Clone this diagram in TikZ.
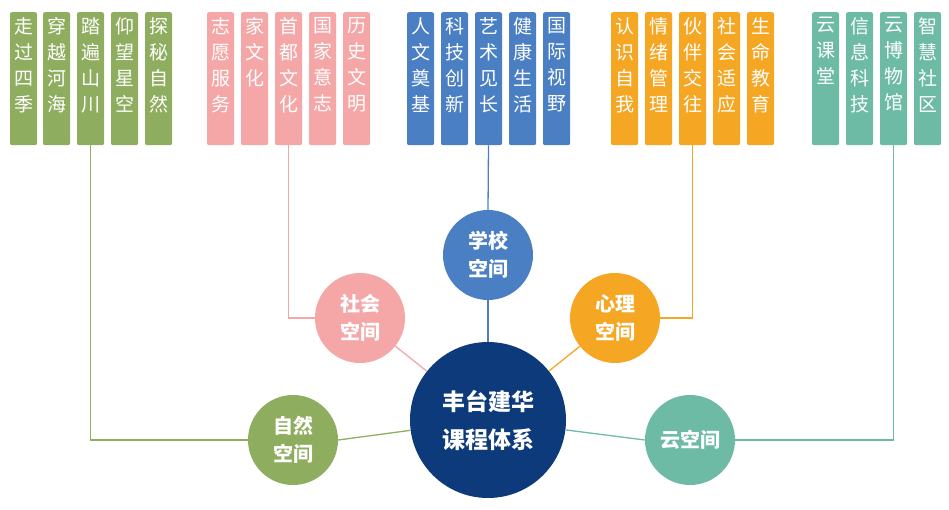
\documentclass[tikz,border=0pt]{standalone}
\usepackage{fontspec}
\setmainfont{Noto Sans CJK SC}
\definecolor{cg}{HTML}{8FAD5F}
\definecolor{cp}{HTML}{F4A7A6}
\definecolor{cb}{HTML}{4A7FC3}
\definecolor{co}{HTML}{F5A623}
\definecolor{ct}{HTML}{6DBBA5}
\definecolor{cn}{HTML}{0C3A7A}
\tikzset{
 tbox/.style={fill=#1,rounded corners=2pt,minimum width=27pt,minimum height=133pt,anchor=north,inner sep=0pt},
 ttext/.style={anchor=north,text=white,font=\fontsize{19}{26}\selectfont,align=center,inner sep=0pt},
 circ/.style={circle,fill=#1,minimum size=90pt,inner sep=0pt,text=white,font=\fontsize{20}{28}\selectfont\bfseries,align=center},
 lnk/.style={draw=#1,line width=1.3pt}
}
\newcommand{\tcol}[4]{%
 \node[tbox=#2] (#3) at (#1+13.5,12) {};
 \node[ttext] at (#1+13.5,17) {#4};}
\begin{document}
\begin{tikzpicture}[x=1pt,y=-1pt]
\useasboundingbox (0,0) rectangle (949,510);
% green
\tcol{10}{cg}{g1}{走\\过\\四\\季}
\tcol{43}{cg}{g2}{穿\\越\\河\\海}
\tcol{77}{cg}{g3}{踏\\遍\\山\\川}
\tcol{111}{cg}{g4}{仰\\望\\星\\空}
\tcol{145}{cg}{g5}{探\\秘\\自\\然}
% pink
\tcol{207}{cp}{p1}{志\\愿\\服\\务}
\tcol{241}{cp}{p2}{家\\文\\化}
\tcol{275}{cp}{p3}{首\\都\\文\\化}
\tcol{309}{cp}{p4}{国\\家\\意\\志}
\tcol{343}{cp}{p5}{历\\史\\文\\明}
% blue
\tcol{407}{cb}{b1}{人\\文\\奠\\基}
\tcol{441}{cb}{b2}{科\\技\\创\\新}
\tcol{475}{cb}{b3}{艺\\术\\见\\长}
\tcol{509}{cb}{b4}{健\\康\\生\\活}
\tcol{543}{cb}{b5}{国\\际\\视\\野}
% orange
\tcol{611}{co}{o1}{认\\识\\自\\我}
\tcol{645}{co}{o2}{情\\绪\\管\\理}
\tcol{679}{co}{o3}{伙\\伴\\交\\往}
\tcol{713}{co}{o4}{社\\会\\适\\应}
\tcol{747}{co}{o5}{生\\命\\教\\育}
% teal
\tcol{812}{ct}{t1}{云\\课\\堂}
\tcol{846}{ct}{t2}{信\\息\\科\\技}
\tcol{880}{ct}{t3}{云\\博\\物\\馆}
\tcol{914}{ct}{t4}{智\\慧\\社\\区}
% circles
\node[circ=cn,minimum size=156pt,font=\fontsize{23}{38}\selectfont\bfseries] (main) at (488,420) {丰台建华\\课程体系};
\node[circ=cb] (xx) at (488,255) {学校\\空间};
\node[circ=cp] (sh) at (360,318) {社会\\空间};
\node[circ=co] (xl) at (615,318) {心理\\空间};
\node[circ=cg] (zr) at (293,440) {自然\\空间};
\node[circ=ct] (yk) at (690,440) {云空间};
% links
\draw[lnk=cg] (g3.south) |- (zr.west);
\draw[lnk=cg] (zr.east) -- (main);
\draw[lnk=cp] (p3.south) |- (sh.west);
\draw[lnk=cp] (sh) -- (main);
\draw[lnk=cb] (b3.south) -- (xx.north);
\draw[lnk=cb] (xx) -- (main);
\draw[lnk=co] (o3.south) |- (xl.east);
\draw[lnk=co] (xl) -- (main);
\draw[lnk=ct] (t3.south) |- (yk.east);
\draw[lnk=ct] (yk.west) -- (main);
\end{tikzpicture}
\end{document}
